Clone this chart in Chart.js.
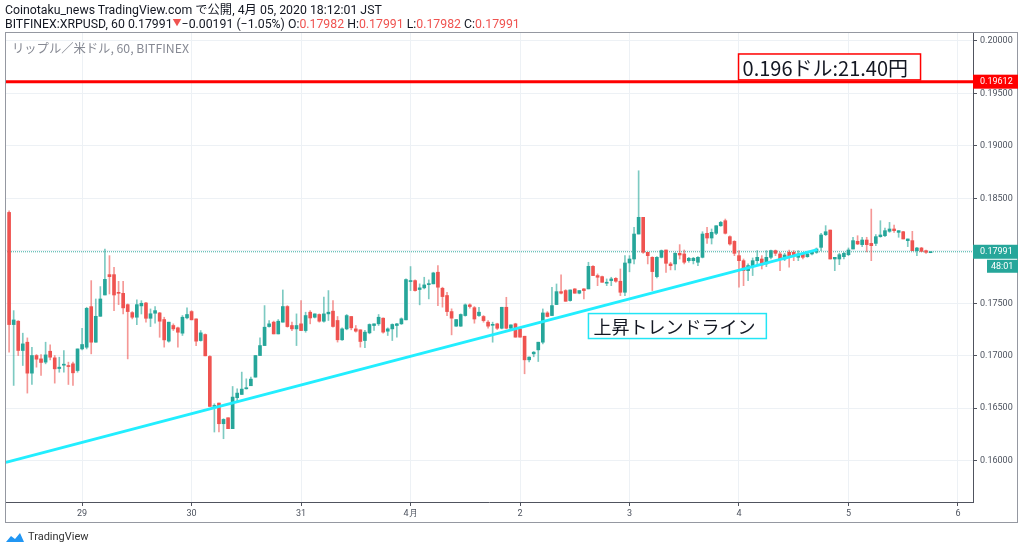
<!DOCTYPE html>
<html>
<head>
<meta charset="utf-8">
<script src="https://cdn.jsdelivr.net/npm/chart.js@4.4.1/dist/chart.umd.min.js"></script>
<style>
  html, body { margin: 0; padding: 0; background: #fff; }
  #wrap { position: relative; width: 1024px; height: 552px; overflow: hidden; }
  #chart { position: absolute; left: 0; top: 0; }
  .hdr { position: absolute; left: 5px; font-family: Roboto, "Noto Sans CJK JP", sans-serif; font-size: 12.3px; line-height: 14px; height: 14px; color: #131722; white-space: nowrap; }
  .red { color: #ef5350; }
  .tri { font-size: 9px; position: relative; top: -2px; }
  #sub { position: absolute; left: 12px; top: 39px; font-family: "Noto Sans CJK JP", sans-serif; font-size: 12.3px; color: #868993; white-space: nowrap; }
  #logo { position: absolute; left: 5px; top: 530px; font-family: Roboto, sans-serif; font-size: 11px; color: #333; display: flex; align-items: center; gap: 3px; }
</style>
</head>
<body>
<div id="wrap">
  <canvas id="chart" width="1024" height="552"></canvas>
  <div class="hdr" style="top:3px">Coinotaku_news TradingView.com で公開, 4月 05, 2020 18:12:01 JST</div>
  <div class="hdr" style="top:17px">BITFINEX:XRPUSD, 60 0.17991<span class="red tri">▼</span>−0.00191 (−1.05%) O:<span class="red">0.17982</span> H:<span class="red">0.17991</span> L:<span class="red">0.17982</span> C:<span class="red">0.17991</span></div>
  <div id="sub">リップル／米ドル, 60, BITFINEX</div>
  <div id="logo">
    <svg width="20" height="12" viewBox="0 0 20 12"><path d="M1 11 L6 5 L10 8 L15 2 L19 11 Z" fill="#2196f3"/></svg>
    <span>TradingView</span>
  </div>
</div>
<script>
// 1時間足 XRP/USD (3/28 08:00 〜 4/5 18:00), 目視で読み取った値
const opens = [
  0.18366,0.17297,0.17329,0.17050,0.17129,0.16834,0.17002,0.16970,0.16939,0.17043,
  0.16980,0.16878,0.16910,0.16904,0.16923,0.16859,0.17065,0.17081,0.17468,0.17129,
  0.17376,0.17579,0.17773,0.17773,0.17601,0.17595,0.17487,0.17411,0.17367,0.17475,
  0.17503,0.17357,0.17405,0.17408,0.17345,0.17139,0.17288,0.17266,0.17215,0.17361,
  0.17421,0.17351,0.17145,0.17202,0.16993,0.16517,0.16549,0.16352,0.16409,0.16305,
  0.16600,0.16631,0.16685,0.16714,0.16796,0.17002,0.17097,0.17278,0.17320,0.17208,
  0.17320,0.17469,0.17288,0.17256,0.17304,0.17240,0.17415,0.17367,0.17393,0.17329,
  0.17399,0.17425,0.17336,0.17152,0.17256,0.17374,0.17256,0.17247,0.17145,0.17218,
  0.17288,0.17304,0.17358,0.17234,0.17256,0.17288,0.17304,0.17342,0.17707,0.17716,
  0.17631,0.17647,0.17678,0.17685,0.17796,0.17643,0.17574,0.17421,0.17282,0.17282,
  0.17383,0.17485,0.17458,0.17383,0.17374,0.17320,0.17290,0.17304,0.17262,0.17462,
  0.17262,0.17304,0.17256,0.17186,0.16961,0.17018,0.17056,0.17129,0.17408,0.17383,
  0.17488,0.17611,0.17621,0.17526,0.17637,0.17596,0.17637,0.17637,0.17852,0.17764,
  0.17754,0.17691,0.17716,0.17738,0.17710,0.17605,0.17884,0.17922,0.18160,0.18319,
  0.17986,0.17938,0.17754,0.17938,0.18008,0.17875,0.17875,0.17976,0.17970,0.17906,
  0.17906,0.17891,0.17938,0.18167,0.18122,0.18167,0.18239,0.18287,0.18135,0.18090,
  0.17954,0.17906,0.17811,0.17849,0.17906,0.17922,0.17875,0.17938,0.18002,0.17970,
  0.17922,0.17986,0.17986,0.17938,0.17970,0.17944,0.17970,0.17986,0.18033,0.18154,
  0.18198,0.17922,0.17922,0.17944,0.17963,0.18017,0.18091,0.18059,0.18103,0.18071,
  0.18071,0.18135,0.18144,0.18186,0.18208,0.18176,0.18182,0.18097,0.18097,0.18001,
  0.18027,0.18001,0.17982
];
const highs = [
  0.18380,0.17430,0.17335,0.17215,0.17170,0.17081,0.17012,0.17012,0.17129,0.17104,
  0.17002,0.16986,0.17050,0.16939,0.16939,0.17065,0.17262,0.17462,0.17716,0.17541,
  0.17659,0.18017,0.17954,0.17843,0.17709,0.17709,0.17494,0.17421,0.17532,0.17525,
  0.17510,0.17446,0.17468,0.17414,0.17367,0.17320,0.17304,0.17272,0.17383,0.17456,
  0.17430,0.17351,0.17240,0.17208,0.17000,0.16542,0.16549,0.16400,0.16409,0.16707,
  0.16685,0.16844,0.16780,0.16796,0.17002,0.17170,0.17478,0.17335,0.17330,0.17345,
  0.17627,0.17478,0.17320,0.17399,0.17525,0.17415,0.17430,0.17399,0.17399,0.17558,
  0.17621,0.17526,0.17374,0.17266,0.17393,0.17374,0.17288,0.17247,0.17241,0.17304,
  0.17304,0.17393,0.17361,0.17266,0.17304,0.17310,0.17361,0.17732,0.17850,0.17723,
  0.17685,0.17748,0.17723,0.17796,0.17859,0.17653,0.17605,0.17447,0.17345,0.17399,
  0.17494,0.17494,0.17469,0.17462,0.17383,0.17335,0.17320,0.17310,0.17462,0.17557,
  0.17294,0.17310,0.17262,0.17186,0.16990,0.17040,0.17129,0.17446,0.17420,0.17653,
  0.17684,0.17770,0.17630,0.17627,0.17640,0.17621,0.17640,0.17891,0.17860,0.17780,
  0.17760,0.17732,0.17748,0.17745,0.17827,0.17954,0.17954,0.18224,0.18763,0.18319,
  0.17986,0.17944,0.17944,0.18008,0.18008,0.17891,0.17983,0.18059,0.18008,0.17938,
  0.17938,0.17944,0.18182,0.18224,0.18208,0.18239,0.18281,0.18303,0.18144,0.18097,
  0.18002,0.17922,0.17875,0.17932,0.18002,0.17954,0.18002,0.18008,0.18008,0.17986,
  0.17976,0.18008,0.18002,0.18002,0.17986,0.17976,0.17990,0.18027,0.18167,0.18240,
  0.18198,0.17938,0.17976,0.17986,0.18027,0.18129,0.18144,0.18129,0.18129,0.18398,
  0.18154,0.18287,0.18217,0.18271,0.18246,0.18192,0.18186,0.18113,0.18186,0.18033,
  0.18033,0.18008,0.17991
];
const lows = [
  0.17034,0.16717,0.17002,0.16907,0.16644,0.16726,0.16891,0.16812,0.16923,0.16961,
  0.16739,0.16843,0.16843,0.16726,0.16717,0.16843,0.17056,0.17065,0.17018,0.17129,
  0.17376,0.17579,0.17589,0.17430,0.17487,0.17398,0.16970,0.17351,0.17297,0.17398,
  0.17319,0.17278,0.17310,0.17176,0.17082,0.17129,0.17240,0.17082,0.17193,0.17351,
  0.17342,0.17097,0.17139,0.16999,0.16517,0.16273,0.16273,0.16209,0.16305,0.16305,
  0.16558,0.16631,0.16682,0.16714,0.16796,0.17002,0.17097,0.17272,0.17208,0.17208,
  0.17320,0.17272,0.17240,0.17097,0.17240,0.17224,0.17304,0.17360,0.17320,0.17320,
  0.17336,0.17272,0.17130,0.17145,0.17247,0.17247,0.17225,0.17082,0.17076,0.17209,
  0.17241,0.17288,0.17215,0.17193,0.17145,0.17177,0.17298,0.17342,0.17621,0.17615,
  0.17485,0.17637,0.17542,0.17685,0.17478,0.17463,0.17383,0.17199,0.17279,0.17279,
  0.17377,0.17453,0.17310,0.17374,0.17320,0.17262,0.17129,0.17250,0.17256,0.17256,
  0.17250,0.17177,0.17177,0.16828,0.16940,0.16990,0.16945,0.17113,0.17370,0.17383,
  0.17488,0.17589,0.17519,0.17520,0.17596,0.17590,0.17542,0.17637,0.17764,0.17668,
  0.17700,0.17668,0.17668,0.17700,0.17573,0.17573,0.17800,0.17875,0.18160,0.17976,
  0.17875,0.17621,0.17741,0.17932,0.17795,0.17818,0.17818,0.17922,0.17875,0.17891,
  0.17875,0.17859,0.17932,0.18071,0.18065,0.18154,0.18233,0.18160,0.18055,0.17954,
  0.17653,0.17668,0.17716,0.17764,0.17865,0.17827,0.17849,0.17922,0.17954,0.17811,
  0.17906,0.17843,0.17906,0.17906,0.17922,0.17938,0.17960,0.17976,0.18001,0.18144,
  0.17922,0.17811,0.17868,0.17922,0.17954,0.18017,0.18059,0.18040,0.17990,0.17906,
  0.18049,0.18129,0.18135,0.18176,0.18176,0.18129,0.18113,0.18040,0.18001,0.17954,
  0.17990,0.17976,0.17982
];
const closes = [
  0.17297,0.17341,0.17050,0.17113,0.16834,0.17002,0.16967,0.16936,0.17008,0.16986,
  0.16875,0.16891,0.16916,0.16897,0.16837,0.17065,0.17107,0.17452,0.17129,0.17376,
  0.17541,0.17728,0.17754,0.17579,0.17595,0.17456,0.17421,0.17367,0.17487,0.17500,
  0.17357,0.17400,0.17430,0.17329,0.17151,0.17320,0.17256,0.17224,0.17367,0.17393,
  0.17342,0.17139,0.17218,0.16999,0.16517,0.16523,0.16352,0.16393,0.16305,0.16606,
  0.16644,0.16682,0.16695,0.16777,0.17002,0.17097,0.17272,0.17304,0.17208,0.17329,
  0.17469,0.17278,0.17256,0.17288,0.17240,0.17383,0.17360,0.17399,0.17329,0.17399,
  0.17415,0.17279,0.17152,0.17256,0.17383,0.17266,0.17234,0.17136,0.17225,0.17298,
  0.17304,0.17367,0.17225,0.17256,0.17298,0.17304,0.17352,0.17726,0.17716,0.17621,
  0.17647,0.17675,0.17685,0.17789,0.17653,0.17564,0.17421,0.17358,0.17345,0.17393,
  0.17485,0.17469,0.17350,0.17415,0.17335,0.17282,0.17297,0.17262,0.17462,0.17262,
  0.17294,0.17177,0.17177,0.16961,0.16987,0.17034,0.17129,0.17408,0.17374,0.17478,
  0.17611,0.17596,0.17519,0.17627,0.17596,0.17621,0.17621,0.17852,0.17764,0.17748,
  0.17700,0.17700,0.17732,0.17710,0.17605,0.17884,0.17922,0.18160,0.18319,0.17986,
  0.17954,0.17802,0.17938,0.18002,0.17881,0.17859,0.17976,0.17960,0.17891,0.17929,
  0.17929,0.17938,0.18160,0.18122,0.18176,0.18239,0.18271,0.18167,0.18065,0.17976,
  0.17906,0.17811,0.17859,0.17906,0.17938,0.17865,0.17938,0.18002,0.17976,0.17922,
  0.17960,0.17954,0.17954,0.17970,0.17938,0.17970,0.17986,0.18017,0.18151,0.18182,
  0.17922,0.17938,0.17963,0.17976,0.18008,0.18097,0.18065,0.18103,0.18059,0.18049,
  0.18135,0.18151,0.18192,0.18208,0.18192,0.18192,0.18113,0.18113,0.18001,0.18027,
  0.17995,0.17986,0.17991
];

// 日付の区切り (ローソク足のインデックス) と表示ラベル
const dayTicks = [16, 40, 64, 88, 112, 136, 160, 184, 208];
const dayLabels = ['29', '30', '31', '4月', '2', '3', '4', '5', '6'];
const yTicks = [0.16, 0.165, 0.17, 0.175, 0.18, 0.185, 0.19, 0.195, 0.2];

// 水平線・トレンドライン
const resistance = 0.19612;
const lastPrice = 0.17991;
const trendX = [-0.7, 177.2];
const trendY = [0.15984, 0.18011];

const UP = '#26a69a', DOWN = '#ef5350';
const UP_W = 'rgba(38,166,154,0.6)', DOWN_W = 'rgba(239,83,80,0.6)';

const idx = opens.map((_, i) => i);
const isUp = idx.map(i => closes[i] >= opens[i]);

const bodies = idx.map(i => ({ x: i, y: [opens[i], closes[i]] }));
const wicks = idx.map(i => ({ x: i, y: [lows[i], highs[i]] }));

const X_MIN = -0.9, X_MAX = 211.3;

// 枠線・価格ラベル・注釈ボックス
const overlay = {
  id: 'overlay',
  afterDatasetsDraw(chart) {
    const { ctx, scales: { x, y } } = chart;
    ctx.save();
    // 注釈 (赤)
    let l = x.getPixelForValue(159.9), r = x.getPixelForValue(199.8);
    let t = y.getPixelForValue(0.19876), b = y.getPixelForValue(0.19629);
    ctx.fillStyle = '#fff';
    ctx.fillRect(l, t, r - l, b - t);
    ctx.strokeStyle = '#ff0000';
    ctx.lineWidth = 1.5;
    ctx.strokeRect(l, t, r - l, b - t);
    ctx.fillStyle = '#131722';
    ctx.font = '20px "Noto Sans CJK JP", sans-serif';
    ctx.textBaseline = 'middle';
    ctx.fillText('0.196ドル:21.40円', l + 4, (t + b) / 2 + 1);
    // 注釈 (シアン)
    l = x.getPixelForValue(127); r = x.getPixelForValue(166);
    t = y.getPixelForValue(0.17402); b = y.getPixelForValue(0.17164);
    ctx.fillStyle = '#fff';
    ctx.fillRect(l, t, r - l, b - t);
    ctx.strokeStyle = '#22e5f5';
    ctx.lineWidth = 1.5;
    ctx.strokeRect(l, t, r - l, b - t);
    ctx.fillStyle = '#131722';
    ctx.font = '18px "Noto Sans CJK JP", sans-serif';
    ctx.fillText('上昇トレンドライン', l + 5, (t + b) / 2 + 1);
    ctx.restore();
  },
  afterDraw(chart) {
    const { ctx, chartArea: ca, scales: { y } } = chart;
    ctx.save();
    // 外枠
    ctx.strokeStyle = '#9598a1';
    ctx.lineWidth = 1;
    ctx.strokeRect(5.5, 32.5, 1012, 490);
    // 価格ラベル
    ctx.font = '9px Roboto, sans-serif';
    ctx.textBaseline = 'middle';
    let py = y.getPixelForValue(resistance);
    ctx.fillStyle = '#ff0000';
    ctx.fillRect(ca.right, py - 7, 45, 14);
    ctx.fillStyle = '#fff';
    ctx.fillText(resistance.toFixed(5), ca.right + 7, py);
    py = y.getPixelForValue(lastPrice);
    ctx.fillStyle = UP;
    ctx.fillRect(ca.right, py - 7, 45, 14);
    ctx.fillRect(ca.right + 14, py + 8, 31, 13);
    ctx.fillStyle = '#fff';
    ctx.fillText(lastPrice.toFixed(5), ca.right + 7, py);
    ctx.fillText('48:01', ca.right + 18, py + 15);
    ctx.restore();
  }
};

new Chart(document.getElementById('chart'), {
  type: 'bar',
  data: {
    datasets: [
      {
        type: 'line',
        data: [{ x: trendX[0], y: trendY[0] }, { x: trendX[1], y: trendY[1] }],
        borderColor: '#22eeff',
        borderWidth: 3,
        pointRadius: 0,
        order: 0
      },
      {
        type: 'line',
        data: [{ x: X_MIN, y: resistance }, { x: X_MAX, y: resistance }],
        borderColor: '#ff0000',
        borderWidth: 3,
        pointRadius: 0,
        order: 1
      },
      {
        data: bodies,
        backgroundColor: isUp.map(u => u ? UP : DOWN),
        barThickness: 3,
        minBarLength: 1,
        grouped: false,
        order: 2
      },
      {
        data: wicks,
        backgroundColor: isUp.map(u => u ? UP_W : DOWN_W),
        barThickness: 1,
        grouped: false,
        order: 3
      },
      {
        type: 'line',
        data: [{ x: X_MIN, y: lastPrice }, { x: X_MAX, y: lastPrice }],
        borderColor: 'rgba(38,166,154,0.9)',
        borderWidth: 1,
        borderDash: [1, 1],
        pointRadius: 0,
        order: 4
      }
    ]
  },
  options: {
    responsive: false,
    animation: false,
    events: [],
    layout: { padding: { left: 5, top: 33, right: 6, bottom: 29 } },
    plugins: { legend: { display: false }, tooltip: { enabled: false } },
    scales: {
      x: {
        type: 'linear',
        min: X_MIN,
        max: X_MAX,
        offset: false,
        afterBuildTicks: s => { s.ticks = dayTicks.map(v => ({ value: v })); },
        afterFit: s => { s.height = 21; },
        grid: { color: '#edf1f5', tickColor: '#50535e', tickLength: 4, offset: false },
        border: { color: '#50535e' },
        ticks: {
          autoSkip: false,
          maxRotation: 0,
          padding: 2,
          color: '#4c525e',
          font: { family: 'Roboto', size: 9 },
          callback: v => dayLabels[dayTicks.indexOf(v)]
        }
      },
      y: {
        position: 'right',
        min: 0.15606,
        max: 0.20076,
        afterBuildTicks: s => { s.ticks = yTicks.map(v => ({ value: v })); },
        afterFit: s => { s.width = 45; },
        grid: { color: '#edf1f5', tickColor: '#50535e', tickLength: 4 },
        border: { color: '#50535e' },
        ticks: {
          padding: 3,
          color: '#4c525e',
          font: { family: 'Roboto', size: 9 },
          callback: v => v.toFixed(5)
        }
      }
    }
  },
  plugins: [overlay]
});
</script>
</body>
</html>
